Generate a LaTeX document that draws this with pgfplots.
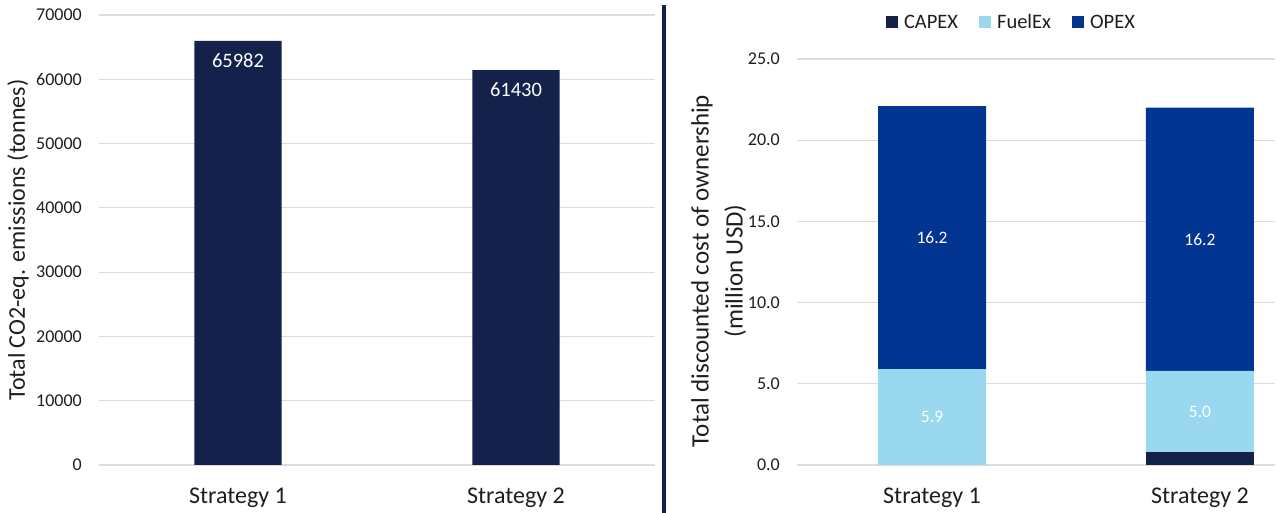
\documentclass[border=0pt]{standalone}
\usepackage{pgfplots}
\pgfplotsset{compat=1.18}
\usepackage{fontspec}
\setmainfont{Carlito}

\definecolor{navy}{HTML}{13214B}
\definecolor{opexblue}{HTML}{023592}
\definecolor{fuelblue}{HTML}{9AD8EF}
\definecolor{gridgray}{HTML}{DCDCDC}
\definecolor{txt}{HTML}{1E1E1E}

\pgfplotsset{
  panel/.style={
    scale only axis,
    anchor=south west,
    axis line style={draw=none},
    major tick length=0pt,
    ymajorgrids,
    grid style={gridgray, line width=1.2pt},
    ymin=0,
    xtick={0,1},
    xticklabels={Strategy 1, Strategy 2},
    /pgf/number format/assume math mode=true,
    every tick label/.append style={text=txt},
    yticklabel style={font=\fontsize{18}{20}\selectfont, anchor=east, inner sep=0pt, xshift=-17pt},
    xticklabel style={font=\fontsize{24}{28}\selectfont, anchor=north, inner sep=0pt, yshift=-23pt},
    ylabel style={text=txt},
  },
}

\begin{document}
\begin{tikzpicture}
\path[use as bounding box] (0pt,0pt) rectangle (1278pt,513pt);

% emissions panel
\begin{axis}[
  panel,
  at={(99pt,48pt)},
  width=556pt, height=450pt,
  xmin=-0.5, xmax=1.5,
  ymax=70000,
  ytick={0,10000,...,70000},
  scaled y ticks=false,
  yticklabel style={/pgf/number format/1000 sep={}},
  ylabel={Total CO2-eq. emissions (tonnes)},
  every axis y label/.style={at={(axis description cs:-0.1457,0.5)}, rotate=90, anchor=center,
    font=\fontsize{24}{28}\selectfont, text=txt},
  ybar, bar width=0.314,
  nodes near coords={\pgfmathprintnumber[fixed, precision=0, 1000 sep={}]{\pgfplotspointmeta}},
  every node near coord/.append style={font=\fontsize{20.5}{24}\selectfont, text=white, anchor=center, yshift=-20pt},
]
\addplot[fill=navy, draw=none] coordinates {(0,65982) (1,61430)};
\end{axis}

% divider
\draw[navy, line width=4pt] (663.5pt,0pt) -- (663.5pt,508pt);

% cost panel (stacked labels sit at the middle of each segment)
\begin{axis}[
  panel,
  at={(797pt,48pt)},
  width=478pt, height=406pt,
  xmin=-0.504, xmax=1.28,
  ymax=25,
  ytick={0,5,...,25},
  yticklabel style={/pgf/number format/.cd, fixed, precision=1, zerofill},
  ylabel={Total discounted cost of ownership\\(million USD)},
  every axis y label/.style={at={(axis description cs:-0.164,0.478)}, rotate=90, anchor=center,
    align=center, font=\fontsize{25}{34}\selectfont, text=txt},
  ybar stacked, bar width=0.403,
  legend columns=3,
  legend image code/.code={\fill[#1] (0pt,-6pt) rectangle (12pt,6pt);},
  legend style={at={(rel axis cs:0.4487,1.0899)}, anchor=center, draw=none, fill=none,
    font=\fontsize{20.5}{24}\selectfont, text=txt,
    /tikz/every odd column/.append style={column sep=4pt},
    /tikz/every even column/.append style={column sep=19pt}},
  value label/.style={
    point meta=explicit,
    nodes near coords={\pgfmathprintnumber[fixed, precision=1, zerofill]{\pgfplotspointmeta}},
    every node near coord/.append style={font=\fontsize{17.5}{20}\selectfont, text=white, anchor=center},
  },
]
\addplot[fill=navy, draw=none] coordinates {(0,0) (1,0.8)};
\addlegendentry{CAPEX}
\addplot[fill=fuelblue, draw=none, value label] coordinates {(0,5.9) [5.9] (1,5.0) [5.0]};
\addlegendentry{FuelEx}
\addplot[fill=opexblue, draw=none, value label] coordinates {(0,16.2) [16.2] (1,16.2) [16.2]};
\addlegendentry{OPEX}
\end{axis}
\end{tikzpicture}
\end{document}
